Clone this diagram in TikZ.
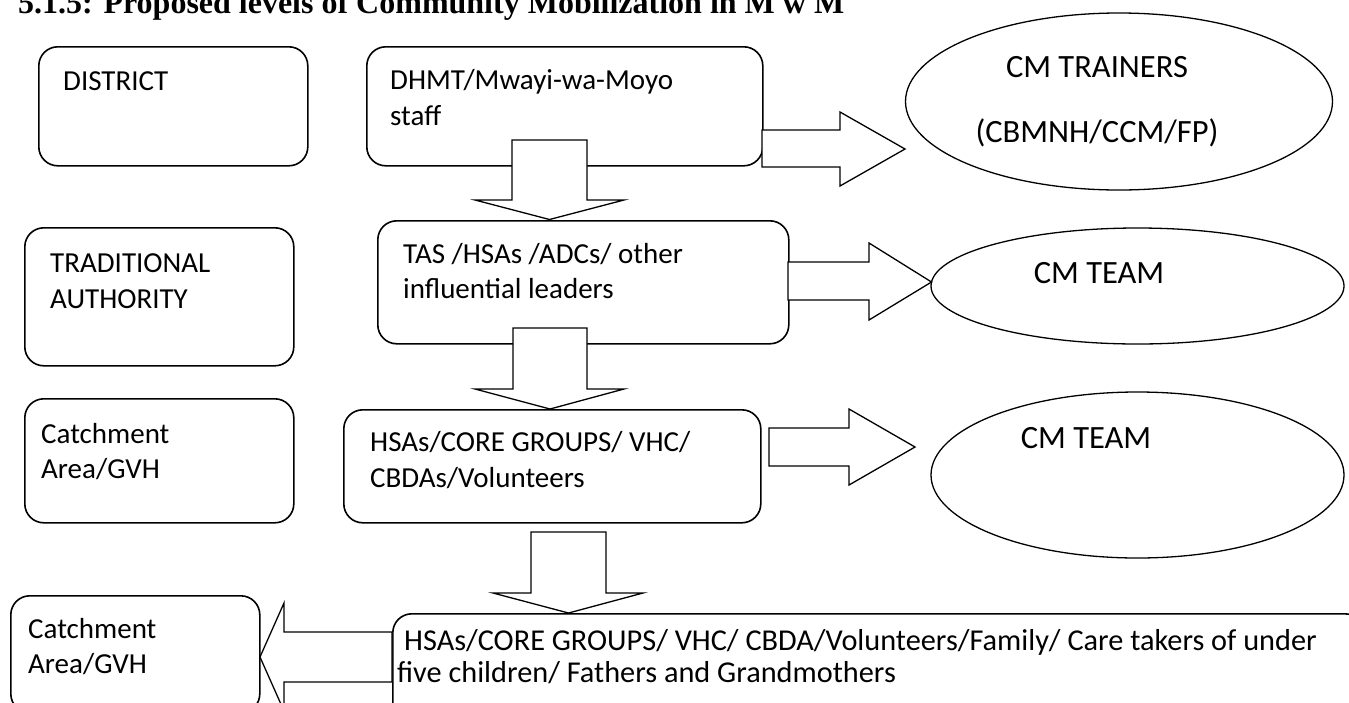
\documentclass[tikz,border=0pt]{standalone}
\usepackage{fontspec}
\setmainfont{Carlito}
\newfontfamily\titlefont{Liberation Serif}
\usetikzlibrary{shapes.geometric}
\begin{document}
\begin{tikzpicture}[x=1pt,y=-1pt,
  box/.style={draw, line width=1.6pt, rounded corners=19pt, anchor=north west, inner sep=0pt},
  oval/.style={draw, ellipse, line width=1.3pt, inner sep=0pt},
  blockarrow/.style={draw, fill=white, line width=1.3pt, line join=miter},
  lbl/.style={anchor=base west, inner sep=0pt, font=\fontsize{29}{36}\selectfont},
  olbl/.style={anchor=base, inner sep=0pt, font=\fontsize{32.5}{38}\selectfont}]
\useasboundingbox (0,0) rectangle (1349,702);
\fill[white] (0,0) rectangle (1349,702);
\clip (0,0) rectangle (1349,702);

% heading
\node[anchor=base west, inner sep=0pt, font=\titlefont\fontsize{32}{36}\bfseries\selectfont] (title) at (18,13)
  {5.1.5: Proposed levels of Community Mobilization in M w M};

% level boxes (left column)
\node[box, minimum width=269pt, minimum height=119pt] (district) at (38,46) {};
\node[box, minimum width=269pt, minimum height=138pt] (ta) at (24,227) {};
\node[box, minimum width=269pt, minimum height=124pt] (catchA) at (24,398) {};
\node[box, minimum width=249pt, minimum height=117pt] (catchB) at (10,595) {};

% actor boxes (middle column)
\node[box, minimum width=396pt, minimum height=119pt] (dhmt) at (366,46) {};
\node[box, minimum width=411pt, minimum height=123pt] (tas) at (377,220) {};
\node[box, minimum width=417pt, minimum height=113pt] (hsas) at (343,409) {};
\node[box, minimum width=971pt, minimum height=140pt] (base) at (392,613) {};

% teams
\node[oval, minimum width=427pt, minimum height=177pt] (trainers) at (1119,101.5) {};
\node[oval, minimum width=413pt, minimum height=116pt] (teamA) at (1137.5,286) {};
\node[oval, minimum width=413pt, minimum height=166pt] (teamB) at (1137.5,475) {};

% box texts
\node[lbl] (districtT) at (63,90) {DISTRICT};
\node[lbl] (dhmtT1) at (390,89) {DHMT/Mwayi-wa-Moyo};
\node[lbl] (dhmtT2) at (390,125) {staff};
\node[lbl] (taT1) at (50,272) {TRADITIONAL};
\node[lbl] (taT2) at (50,308) {AUTHORITY};
\node[lbl] (tasT1) at (403,263) {TAS /HSAs /ADCs/ other};
\node[lbl] (tasT2) at (403,298) {influential leaders};
\node[lbl] (catchAT1) at (41,443) {Catchment};
\node[lbl] (catchAT2) at (41,478) {Area/GVH};
\node[lbl] (hsasT1) at (370,451) {HSAs/CORE GROUPS/ VHC/};
\node[lbl] (hsasT2) at (370,487) {CBDAs/Volunteers};
\node[lbl] (catchBT1) at (28,638) {Catchment};
\node[lbl] (catchBT2) at (28,673) {Area/GVH};
\node[lbl, font=\fontsize{30.3}{36}\selectfont] (baseT1) at (404,650) {HSAs/CORE GROUPS/ VHC/ CBDA/Volunteers/Family/ Care takers of under};
\node[lbl, font=\fontsize{30.3}{36}\selectfont] (baseT2) at (397,682) {five children/ Fathers and Grandmothers};

% team texts
\node[olbl] (trainersT1) at (1097,77) {CM TRAINERS};
\node[olbl] (trainersT2) at (1097,142) {(CBMNH/CCM/FP)};
\node[olbl] (teamAT) at (1099,283) {CM TEAM};
\node[olbl] (teamBT) at (1086,448) {CM TEAM};

% block arrows: downwards between levels
\draw[blockarrow] (512,140) -- (587,140) -- (587,200) -- (624,200) -- (549.5,219.5) -- (475,200) -- (512,200) -- cycle;
\draw[blockarrow] (513,328) -- (587,328) -- (587,389) -- (624,389) -- (550,409) -- (475,389) -- (513,389) -- cycle;
\draw[blockarrow] (531,532) -- (606,532) -- (606,593) -- (643,593) -- (568.5,613) -- (493,593) -- (531,593) -- cycle;

% block arrows: towards the teams
\draw[blockarrow] (762,130) -- (840,130) -- (840,112) -- (905,149) -- (840,186) -- (840,167) -- (762,167) -- cycle;
\draw[blockarrow] (788,262) -- (869,262) -- (869,243) -- (931.5,282) -- (869,320) -- (869,300) -- (788,300) -- cycle;
\draw[blockarrow] (769,428) -- (849,428) -- (849,409) -- (915,447) -- (849,485) -- (849,466) -- (769,466) -- cycle;

% block arrow back to the catchment area
\draw[blockarrow] (392,632) -- (284,632) -- (284,603) -- (260,657) -- (284,711) -- (284,682) -- (392,682) -- cycle;
\end{tikzpicture}
\end{document}
